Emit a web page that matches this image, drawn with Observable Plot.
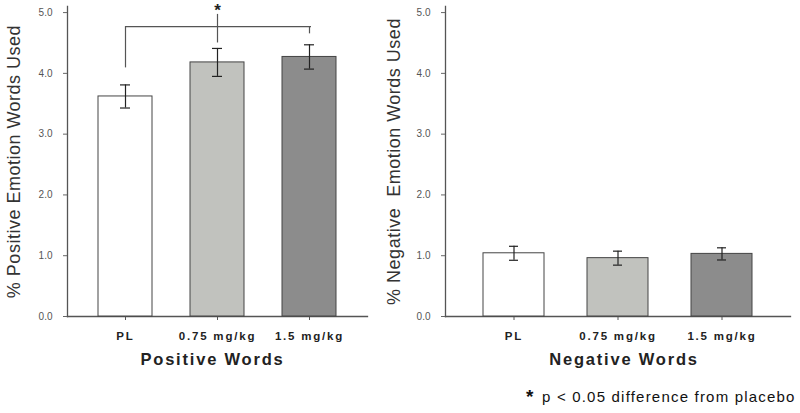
<!DOCTYPE html>
<html>
<head>
<meta charset="utf-8">
<script src="https://cdn.jsdelivr.net/npm/d3@7"></script>
<script src="https://cdn.jsdelivr.net/npm/@observablehq/plot@0.6"></script>
<style>
  html, body { margin: 0; padding: 0; background: #fff; }
  #wrap { position: relative; width: 800px; height: 413px; font-family: "Liberation Sans", Arial, sans-serif; }
  #row { display: flex; flex-direction: row; }
  #note { position: absolute; left: 526px; top: 386px; font-size: 15px; letter-spacing: 1.2px; color: #111; white-space: nowrap; }
  #note b { font-size: 19px; vertical-align: -1px; margin-right: 2px; }
  g[aria-label="x-axis tick label"] text { letter-spacing: 1.8px; }
</style>
</head>
<body>
<div id="wrap">
  <div id="row"></div>
  <div id="note"><b>*</b> p &lt; 0.05 difference from placebo</div>
</div>
<script>
const doses = ["PL", "0.75 mg/kg", "1.5 mg/kg"];
const fills = ["#ffffff", "#c1c2be", "#8c8c8c"];
const posMean = [3.62, 4.18, 4.27];
const posSE = [0.19, 0.23, 0.20];
const negMean = [1.04, 0.96, 1.03];
const negSE = [0.115, 0.115, 0.10];
const yTicks = [0, 1, 2, 3, 4, 5];
// significance bracket (y values)
const bracketTop = 4.77;
const bracketLegs = [
  {dose: "PL", y1: 4.09, y2: 4.77},
  {dose: "0.75 mg/kg", y1: 4.50, y2: 4.97},
  {dose: "1.5 mg/kg", y1: 4.65, y2: 4.77}
];
const starY = 5.03;

const FONT = "Liberation Sans, Arial, sans-serif";

function makePanel(opts) {
  const data = doses.map((d, i) => ({dose: d, mean: opts.mean[i], se: opts.se[i], fill: fills[i]}));
  const bw = opts.bandwidth;
  const marks = [
    Plot.frame({anchor: "left", stroke: "#555", strokeWidth: 1.3}),
    Plot.frame({anchor: "bottom", stroke: "#555", strokeWidth: 1.3}),
    Plot.axisY({ticks: yTicks, tickFormat: d3.format(".1f"), tickSize: 4, tickPadding: 11,
      fontSize: 10, fill: "#555", stroke: "#666", label: null}),
    Plot.axisX({tickSize: 4, tickPadding: 11, fontSize: 11.5, fontWeight: "bold", fill: "#222",
      stroke: "#555", label: null}),
    Plot.barY(data, {x: "dose", y: "mean", fill: "fill", stroke: "#444", strokeWidth: 1}),
    Plot.ruleX(data, {x: "dose", y1: d => d.mean - d.se, y2: d => d.mean + d.se, stroke: "#222", strokeWidth: 1.2}),
    Plot.tickY(data, {x: "dose", y: d => d.mean + d.se, stroke: "#222", strokeWidth: 1.2, insetLeft: opts.capInset, insetRight: opts.capInset}),
    Plot.tickY(data, {x: "dose", y: d => d.mean - d.se, stroke: "#222", strokeWidth: 1.2, insetLeft: opts.capInset, insetRight: opts.capInset}),
    Plot.text([opts.ylabel], {frameAnchor: "left", textAnchor: "middle", rotate: -90, dx: opts.ylabelDx, fontSize: 18,
      fill: "#333", fontFamily: FONT}),
    Plot.text([opts.xlabel], {frameAnchor: "bottom", textAnchor: "middle", dy: 48, dx: opts.xlabelDx, fontSize: 16.5,
      fontWeight: "bold", fill: "#222", fontFamily: FONT})
  ];
  if (opts.bracket) {
    marks.push(
      Plot.ruleY([{x1: doses[0], x2: doses[2], y: bracketTop}], {x1: "x1", x2: "x2", y: "y", insetLeft: bw / 2, insetRight: bw / 2 - 2, stroke: "#555", strokeWidth: 1.2}),
      Plot.ruleX(bracketLegs, {x: "dose", y1: "y1", y2: "y2", stroke: "#555", strokeWidth: 1.2}),
      Plot.text(["*"], {x: [doses[1]], y: [starY], fontSize: 17, fontWeight: "bold", fill: "#222"})
    );
  }
  const svg = Plot.plot({
    width: opts.width,
    height: 385,
    marginLeft: opts.marginLeft,
    marginRight: opts.marginRight,
    marginTop: 6,
    marginBottom: 69,
    style: {fontFamily: FONT, background: "#fff", overflow: "visible"},
    x: {domain: doses, paddingInner: 0.41, paddingOuter: opts.paddingOuter},
    y: {domain: [0, 5.1]},
    marks
  });
  svg.querySelectorAll("text").forEach(t => {
    if (t.textContent === opts.xlabel) t.style.letterSpacing = "1.8px";
    if (t.textContent === opts.ylabel) t.style.letterSpacing = "0.5px";
  });
  return svg;
}

const row = document.getElementById("row");
row.appendChild(makePanel({
  width: 380, marginLeft: 67, marginRight: 13, paddingOuter: 0.335,
  bandwidth: 54, capInset: 22,
  mean: posMean, se: posSE,
  ylabel: "% Positive Emotion Words Used", ylabelDx: -53,
  xlabel: "Positive Words", xlabelDx: -5, bracket: true
}));
row.appendChild(makePanel({
  width: 420, marginLeft: 65, marginRight: 10, paddingOuter: 0.355,
  bandwidth: 62, capInset: 26,
  mean: negMean, se: negSE,
  ylabel: "% Negative  Emotion Words Used", ylabelDx: -51,
  xlabel: "Negative Words", xlabelDx: 6, bracket: false
}));
</script>
</body>
</html>
